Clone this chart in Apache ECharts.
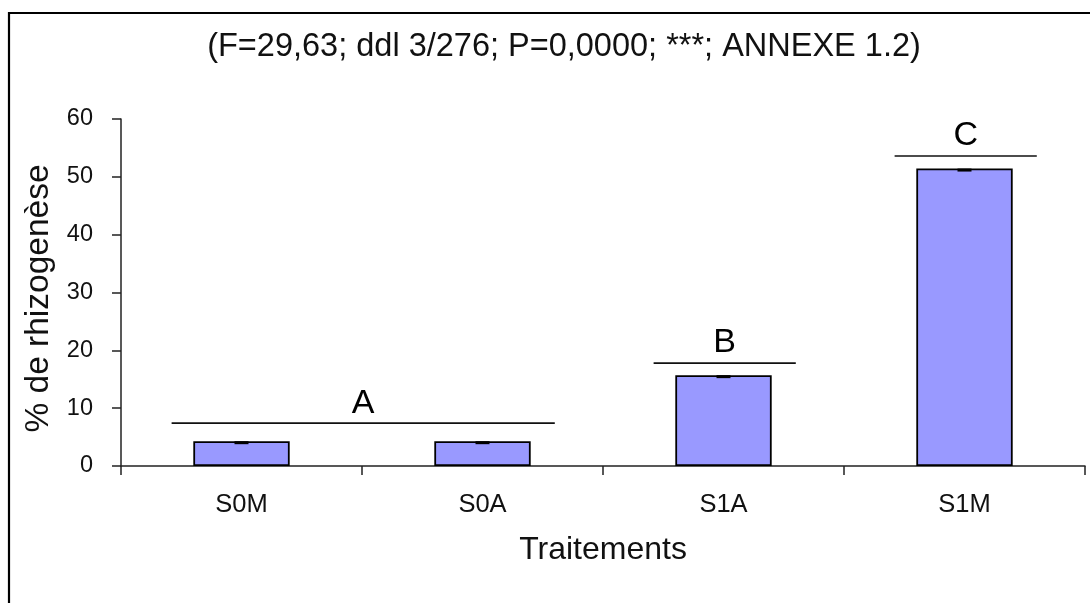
<!DOCTYPE html>
<html>
<head>
<meta charset="utf-8">
<script src="https://cdn.jsdelivr.net/npm/echarts@6/dist/echarts.min.js"></script>
<style>
  html, body { margin: 0; padding: 0; background: #ffffff; }
  #chart { width: 1090px; height: 603px; }
</style>
</head>
<body>
<div id="chart"></div>
<script>
// Treatments and rooting percentages (n = 70 cuttings per treatment)
const categories = ['S0M', 'S0A', 'S1A', 'S1M'];
const rooting = [4.29, 4.29, 15.71, 51.43];
const errors = [0.3, 0.3, 0.3, 0.3];
const yTicks = { min: 0, max: 60, interval: 10 };

// Homogeneous groups: first category, last category, height of the bracket line, letter
const groupStart = [0, 2, 3];
const groupEnd = [1, 2, 3];
const groupLevel = [7.4, 17.8, 53.6];
const groupLetter = ['A', 'B', 'C'];

const titleText = '(F=29,63; ddl 3/276; P=0,0000; ***; ANNEXE 1.2)';
const FONT = '"Liberation Sans", Arial, sans-serif';

const chart = echarts.init(document.getElementById('chart'), null, { renderer: 'canvas' });

const groupData = groupStart.map((s, i) => [s, groupEnd[i], groupLevel[i], groupLetter[i]]);
const errData = rooting.map((v, i) => [i, v, errors[i]]);

chart.setOption({
  animation: false,
  backgroundColor: '#ffffff',
  title: {
    text: titleText,
    left: 564,
    top: 31,
    textAlign: 'center',
    padding: 0,
    textStyle: { fontFamily: FONT, fontSize: 32.5, fontWeight: 'normal', color: '#111' }
  },
  graphic: [{
    type: 'rect',
    shape: { x: 9, y: 13, width: 1200, height: 700 },
    style: { fill: 'none', stroke: '#000', lineWidth: 2.2 },
    silent: true
  }],
  grid: { left: 121, right: 5, top: 119, bottom: 137, containLabel: false },
  xAxis: {
    type: 'category',
    data: categories,
    name: 'Traitements',
    nameLocation: 'middle',
    nameGap: 68,
    nameTextStyle: { fontFamily: FONT, fontSize: 32, color: '#111' },
    axisLine: { lineStyle: { color: '#222', width: 1.5 } },
    axisTick: { show: true, alignWithLabel: false, length: 9, lineStyle: { color: '#222', width: 1.5 } },
    axisLabel: { fontFamily: FONT, fontSize: 25.5, color: '#111', margin: 26 },
    splitLine: { show: false }
  },
  yAxis: {
    type: 'value',
    min: yTicks.min,
    max: yTicks.max,
    interval: yTicks.interval,
    name: '% de rhizogenèse',
    nameLocation: 'middle',
    nameGap: 64,
    nameRotate: 90,
    nameTextStyle: { fontFamily: FONT, fontSize: 33.5, color: '#111', padding: [0, 12, 0, 0] },
    axisLine: { show: true, lineStyle: { color: '#222', width: 1.5 } },
    axisTick: { show: true, length: 9, lineStyle: { color: '#222', width: 1.5 } },
    axisLabel: { fontFamily: FONT, fontSize: 23.5, color: '#111', margin: 28 },
    splitLine: { show: false }
  },
  series: [
    {
      type: 'bar',
      data: rooting,
      barWidth: '40%',
      itemStyle: { color: '#9999ff', borderColor: '#000', borderWidth: 1.8 },
      z: 2
    },
    {
      // short error marks at the top of each bar
      type: 'custom',
      data: errData,
      encode: { x: 0, y: 1 },
      z: 3,
      renderItem: function (params, api) {
        const top = api.coord([api.value(0), api.value(1)]);
        const low = api.coord([api.value(0), api.value(1) - api.value(2)]);
        const h = Math.max(3, low[1] - top[1]);
        return {
          type: 'rect',
          shape: { x: top[0] - 7, y: top[1], width: 14, height: h },
          style: { fill: '#000' }
        };
      }
    },
    {
      // group brackets and letters
      type: 'custom',
      data: groupData,
      encode: { x: [0, 1], y: 2 },
      z: 4,
      renderItem: function (params, api) {
        const p0 = api.coord([api.value(0), api.value(2)]);
        const p1 = api.coord([api.value(1), api.value(2)]);
        const bw = api.size([1, 0])[0];
        const x0 = p0[0] - bw * 0.29;
        const x1 = p1[0] + bw * 0.3;
        const letter = groupLetter[params.dataIndex];
        return {
          type: 'group',
          children: [
            {
              type: 'line',
              shape: { x1: x0, y1: p0[1], x2: x1, y2: p0[1] },
              style: { stroke: '#111', lineWidth: 1.7 }
            },
            {
              type: 'text',
              style: {
                text: letter,
                x: (x0 + x1) / 2,
                y: p0[1] - 3,
                align: 'center',
                verticalAlign: 'bottom',
                font: '34px ' + FONT,
                fill: '#000'
              }
            }
          ]
        };
      }
    }
  ]
});
</script>
</body>
</html>
